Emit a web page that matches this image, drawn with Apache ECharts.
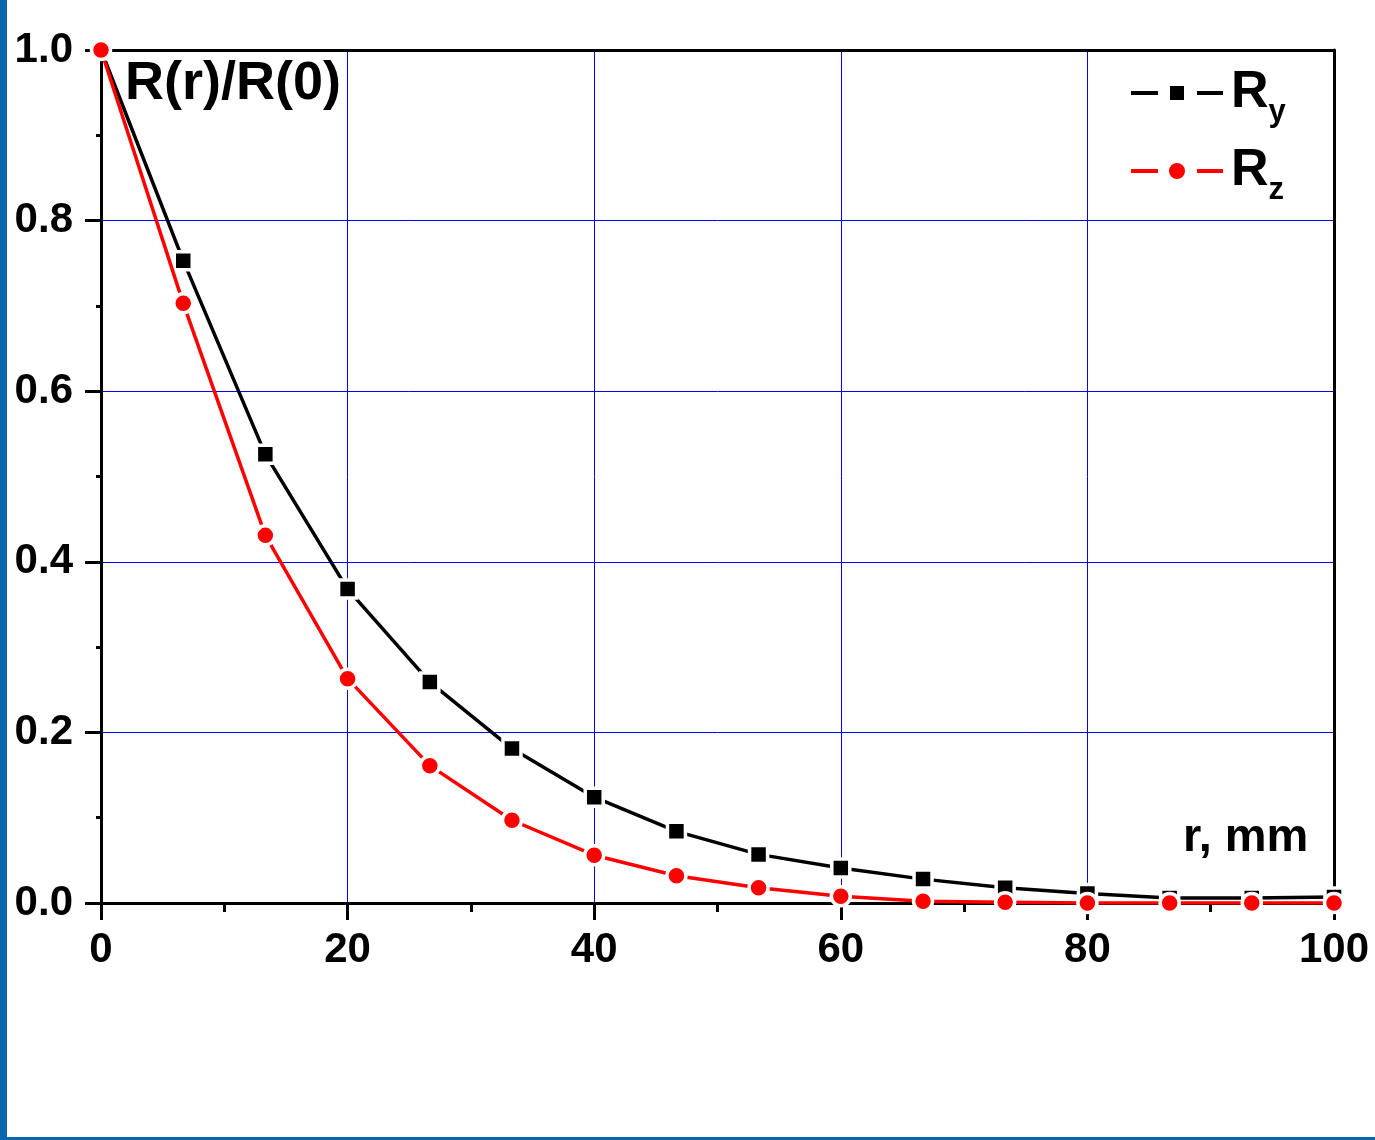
<!DOCTYPE html>
<html>
<head>
<meta charset="utf-8">
<style>
html,body{margin:0;padding:0;background:#fff;}
#chart{width:1375px;height:1140px;}
</style>
<script src="https://cdn.jsdelivr.net/npm/echarts@6/dist/echarts.min.js"></script>
</head>
<body>
<div id="chart"></div>
<script>
const rValues = [0, 6.67, 13.33, 20, 26.67, 33.33, 40, 46.67, 53.33, 60, 66.67, 73.33, 80, 86.67, 93.33, 100];
const ryValues = [1.0, 0.753, 0.526, 0.368, 0.259, 0.181, 0.124, 0.084, 0.057, 0.041, 0.028, 0.018, 0.011, 0.006, 0.006, 0.007];
const rzValues = [1.0, 0.703, 0.431, 0.263, 0.161, 0.097, 0.056, 0.032, 0.018, 0.008, 0.002, 0.001, 0.0, 0.0, 0.0, 0.0];
const seriesNames = ['Ry', 'Rz'];
const chartTitle = 'R(r)/R(0)';
const xAxisTitle = 'r, mm';

const FONT = '"Liberation Sans", Arial, sans-serif';
const chart = echarts.init(document.getElementById('chart'), null, {renderer: 'canvas'});

function pairs(xs, ys) { return xs.map((x, i) => [x, ys[i]]); }

const legendText = {
  fontFamily: FONT, fontWeight: 'bold', color: '#000',
  rich: {
    m: {fontFamily: FONT, fontWeight: 'bold', fontSize: 52, color: '#000', lineHeight: 52, padding: [0, 0, 0, 3]},
    s: {fontFamily: FONT, fontWeight: 'bold', fontSize: 31, color: '#000', padding: [38, 0, 0, 0]}
  }
};
const legendFmt = name => '{m|' + name[0] + '}{s|' + name.slice(1) + '}';
const iconSquare = 'path://M0,5h27v4h-27z M39,0h14v14h-14z M66,5h26v4h-26z';
const iconCircle = 'path://M0,6h27v4h-27z M38,8a8,8 0 1,0 16,0a8,8 0 1,0 -16,0z M66,6h26v4h-26z';

const option = {
  backgroundColor: '#fff',
  animation: false,
  textStyle: {fontFamily: FONT},
  title: [
    {text: chartTitle, left: 120, top: 52,
     textStyle: {fontFamily: FONT, fontWeight: 'bold', fontSize: 54, color: '#000'}},
    {text: xAxisTitle, left: 1178, top: 810,
     textStyle: {fontFamily: FONT, fontWeight: 'bold', fontSize: 47, color: '#000'}}
  ],
  grid: {left: 101, right: 41, top: 50, bottom: 237, containLabel: false},
  legend: [{
    orient: 'vertical', left: 1126, top: 62, itemWidth: 92, itemHeight: 14,
    itemStyle: {borderWidth: 0},
    data: [{name: seriesNames[0], icon: iconSquare}],
    formatter: legendFmt, textStyle: legendText
  }, {
    orient: 'vertical', left: 1126, top: 140, itemWidth: 92, itemHeight: 16,
    itemStyle: {borderWidth: 0},
    data: [{name: seriesNames[1], icon: iconCircle}],
    formatter: legendFmt, textStyle: legendText
  }],
  xAxis: [{
    type: 'value', min: 0, max: 100, interval: 20, position: 'bottom',
    axisLine: {show: true, onZero: false, lineStyle: {color: '#000', width: 3}},
    axisTick: {show: true, inside: false, length: 17, lineStyle: {color: '#000', width: 3}},
    minorTick: {show: true, splitNumber: 2, length: 9, lineStyle: {color: '#000', width: 3}},
    axisLabel: {fontFamily: FONT, fontWeight: 'bold', fontSize: 42, color: '#000', margin: 26},
    splitLine: {show: true, showMinLine: false, showMaxLine: false, lineStyle: {color: '#0000ff', width: 1}}
  }, {
    type: 'value', min: 0, max: 100, position: 'top',
    axisLine: {show: true, onZero: false, lineStyle: {color: '#000', width: 3}},
    axisTick: {show: false}, axisLabel: {show: false}, splitLine: {show: false}
  }],
  yAxis: [{
    type: 'value', min: 0, max: 1.0, interval: 0.2, position: 'left',
    axisLine: {show: true, onZero: false, lineStyle: {color: '#000', width: 3}},
    axisTick: {show: true, inside: false, length: 16, lineStyle: {color: '#000', width: 3}},
    minorTick: {show: true, splitNumber: 2, length: 5, lineStyle: {color: '#000', width: 3}},
    axisLabel: {fontFamily: FONT, fontWeight: 'bold', fontSize: 42, color: '#000', margin: 28,
      formatter: v => v.toFixed(1)},
    splitLine: {show: true, showMinLine: false, showMaxLine: false, lineStyle: {color: '#0000ff', width: 1}}
  }, {
    type: 'value', min: 0, max: 1.0, position: 'right',
    axisLine: {show: true, onZero: false, lineStyle: {color: '#000', width: 3}},
    axisTick: {show: false}, axisLabel: {show: false}, splitLine: {show: false}
  }],
  series: [
    {
      name: seriesNames[0], type: 'line', data: pairs(rValues, ryValues),
      symbol: 'rect', symbolSize: 18, clip: true,
      lineStyle: {color: '#000', width: 3.5},
      itemStyle: {color: '#000', borderColor: '#fff', borderWidth: 3.5},
      z: 3
    },
    {
      name: seriesNames[1], type: 'line', data: pairs(rValues, rzValues),
      symbol: 'circle', symbolSize: 19, clip: true,
      lineStyle: {color: '#ff0000', width: 3.5},
      itemStyle: {color: '#ff0000', borderColor: '#fff', borderWidth: 3.5},
      z: 4
    }
  ],
  graphic: [
    {type: 'rect', left: 0, top: 0, shape: {width: 7, height: 1140}, style: {fill: '#0866ae'}, z: 100},
    {type: 'rect', left: 0, top: 1137, shape: {width: 1375, height: 3}, style: {fill: '#0866ae'}, z: 100}
  ]
};
chart.setOption(option);
</script>
</body>
</html>
